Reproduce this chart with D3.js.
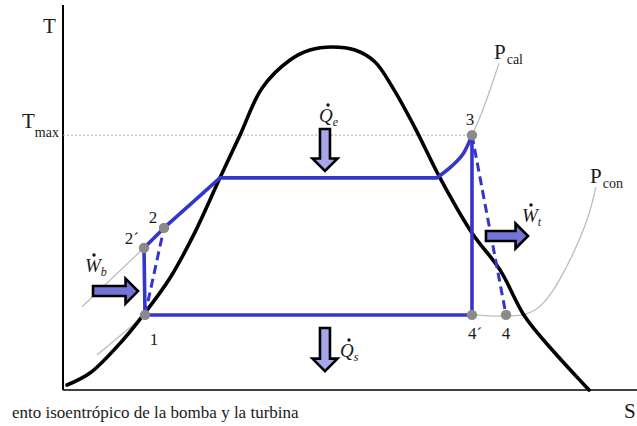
<!DOCTYPE html>
<html>
<head>
<meta charset="utf-8">
<script src="https://cdn.jsdelivr.net/npm/d3@7"></script>
<style>
  html, body { margin: 0; padding: 0; background: #fff; overflow: hidden; }
  svg { display: block; }
  text { font-family: "Liberation Serif", "DejaVu Serif", serif; fill: #1a1a1a; }
</style>
</head>
<body>
<svg id="chart" width="637" height="426"></svg>
<script>
// Saturation dome: entropy s and temperature T (arbitrary units)
const domeS = [0.07, 0.47, 1.045, 1.41, 1.864, 2.30, 2.735, 3.084, 3.467, 3.955, 4.303, 4.686,
               5.087, 5.436, 5.749, 6.132, 6.568, 7.125, 7.613, 8.049, 8.571, 8.920, 9.164];
const domeT = [1.3, 4.4, 13.0, 19.7, 29.1, 41.0, 55.1, 66.2, 78.4, 85.7, 88.3, 89.1,
               88.3, 85.2, 78.4, 68.1, 55.1, 40.8, 31.2, 19.0, 9.6, 3.9, 0];

// Rankine cycle states
const stateLabels = ["1", "2´", "2", "3", "4´", "4"];
const stateS = [1.429, 1.411, 1.760, 7.125, 7.125, 7.718];
const stateT = [19.5, 36.9, 42.1, 66.2, 19.5, 19.5];

// Boiler heating: saturated liquid, saturated vapour, then superheating up to state 3
const boilerS = [2.735, 6.516, 6.777, 6.969, 7.125];
const boilerT = [55.1, 55.1, 58.2, 61.3, 66.2];

// Isobars (thin grey)
const pcalS = [7.125, 7.265, 7.439, 7.596];
const pcalT = [66.2, 70.9, 77.9, 84.9];
const pcalLiqS = [0.331, 1.411];
const pcalLiqT = [21.6, 36.9];
const pconLiqS = [0.592, 1.429];
const pconLiqT = [9.1, 19.5];
const pconS = [7.125, 7.997, 8.275, 8.519, 8.833, 9.129, 9.286];
const pconT = [19.5, 19.5, 21.3, 25.5, 33.8, 44.2, 52.7];

const tMax = 66.2;

const svg = d3.select("#chart");
const x = d3.scaleLinear().domain([0, 10]).range([63, 637]);
const y = d3.scaleLinear().domain([0, 100]).range([390, 5]);

const zip = (a, b) => a.map((v, i) => [v, b[i]]);
const line = d3.line().x(d => x(d[0])).y(d => y(d[1]));
const smooth = d3.line().x(d => x(d[0])).y(d => y(d[1])).curve(d3.curveCatmullRom.alpha(0.5));

const blue = "#3535c8";
const grey = "#bdbdbd";

// Axes
svg.append("line").attr("x1", x(0)).attr("x2", x(0)).attr("y1", 5).attr("y2", y(0))
  .attr("stroke", "#000").attr("stroke-width", 2);
svg.append("line").attr("x1", x(0)).attr("x2", 637).attr("y1", y(0)).attr("y2", y(0))
  .attr("stroke", "#000").attr("stroke-width", 1.6);

// T_max reference
svg.append("line").attr("x1", x(0)).attr("x2", x(stateS[3])).attr("y1", y(tMax)).attr("y2", y(tMax))
  .attr("stroke", "#aaa").attr("stroke-width", 1).attr("stroke-dasharray", "2,2");

// Isobars
[[pcalS, pcalT], [pcalLiqS, pcalLiqT], [pconLiqS, pconLiqT], [pconS, pconT]].forEach(([s, t]) => {
  svg.append("path").attr("d", smooth(zip(s, t))).attr("fill", "none")
    .attr("stroke", grey).attr("stroke-width", 1.3);
});

// Dome
svg.append("path").attr("d", smooth(zip(domeS, domeT))).attr("fill", "none")
  .attr("stroke", "#000").attr("stroke-width", 3.6).attr("stroke-linecap", "round");

// Cycle: ideal path (solid)
const P = i => [stateS[i], stateT[i]];
svg.append("path")
  .attr("d", line([P(4), P(0), P(1), P(2), [boilerS[0], boilerT[0]], [boilerS[1], boilerT[1]]]))
  .attr("fill", "none").attr("stroke", blue).attr("stroke-width", 3.6).attr("stroke-linejoin", "round");
svg.append("path")
  .attr("d", smooth(zip(boilerS.slice(1), boilerT.slice(1))))
  .attr("fill", "none").attr("stroke", blue).attr("stroke-width", 3.6).attr("stroke-linecap", "round");
svg.append("path").attr("d", line([P(3), P(4)]))
  .attr("fill", "none").attr("stroke", blue).attr("stroke-width", 3.6);

// Real (non-isentropic) pump and turbine (dashed)
[[P(0), P(2)], [P(3), P(5)]].forEach(seg => {
  svg.append("path").attr("d", line(seg)).attr("fill", "none")
    .attr("stroke", blue).attr("stroke-width", 3).attr("stroke-dasharray", "9,5");
});

// State points
svg.selectAll("circle.state").data(stateS).join("circle").attr("class", "state")
  .attr("cx", (d) => x(d)).attr("cy", (d, i) => y(stateT[i])).attr("r", 5.2)
  .attr("fill", "#8a8a8a");

// State labels
const labelOffsets = [[9, 30, "middle"], [-5, -4, "end"], [-11, -5, "middle"],
                      [-2, -10, "middle"], [-4, 24, "start"], [0, 24, "middle"]];
svg.selectAll("text.state").data(stateLabels).join("text").attr("class", "state")
  .attr("x", (d, i) => x(stateS[i]) + labelOffsets[i][0])
  .attr("y", (d, i) => y(stateT[i]) + labelOffsets[i][1])
  .attr("text-anchor", (d, i) => labelOffsets[i][2])
  .attr("font-size", 17).text(d => d);

// Block arrows for heat and work
function blockArrow(x0, y0, x1, y1, fill) {
  const len = Math.hypot(x1 - x0, y1 - y0);
  const ang = Math.atan2(y1 - y0, x1 - x0) * 180 / Math.PI;
  const sw = 5, hw = 12.5, hl = 12.5;
  const pts = [[0, -sw], [len - hl, -sw], [len - hl, -hw], [len, 0], [len - hl, hw], [len - hl, sw], [0, sw]];
  svg.append("path").attr("d", "M" + pts.map(p => p.join(",")).join("L") + "Z")
    .attr("transform", `translate(${x0},${y0}) rotate(${ang})`)
    .attr("fill", fill).attr("stroke", "#000").attr("stroke-width", 2.6).attr("stroke-linejoin", "miter");
}
blockArrow(x(4.564), y(67.8), x(4.564), y(56.9), "#a6a6ea");
blockArrow(x(4.564), y(16.1), x(4.564), y(4.9), "#a6a6ea");
blockArrow(x(0.523), y(25.7), x(1.307), y(25.7), "#7474d8");
blockArrow(x(7.369), y(40.0), x(8.101), y(40.0), "#7474d8");

// Rate symbols with dot and subscript
function rateLabel(px, py, sym, sub) {
  const t = svg.append("text").attr("x", px).attr("y", py)
    .attr("font-style", "italic").attr("font-size", 19);
  t.append("tspan").text(sym);
  t.append("tspan").attr("font-size", 12).attr("dy", 4).text(sub);
  svg.append("circle").attr("cx", px + 9).attr("cy", py - 17).attr("r", 1.7).attr("fill", "#111");
}
rateLabel(319, 122, "Q", "e");
rateLabel(340, 357, "Q", "s");
rateLabel(85, 272, "W", "b");
rateLabel(522, 222, "W", "t");

// Axis and pressure labels
svg.append("text").attr("x", 43).attr("y", 33).attr("font-size", 21).text("T");
const tm = svg.append("text").attr("x", 22).attr("y", 128).attr("font-size", 21);
tm.append("tspan").text("T");
tm.append("tspan").attr("font-size", 14).attr("dy", 9).text("max");

const pc = svg.append("text").attr("x", 494).attr("y", 59).attr("font-size", 21);
pc.append("tspan").text("P");
pc.append("tspan").attr("font-size", 14).attr("dy", 5).attr("dx", 1).text("cal");

const pn = svg.append("text").attr("x", 590).attr("y", 183).attr("font-size", 21);
pn.append("tspan").text("P");
pn.append("tspan").attr("font-size", 14).attr("dy", 5).attr("dx", 1).text("con");

svg.append("text").attr("x", 624).attr("y", 418).attr("font-size", 21).text("S");

svg.append("text").attr("x", 12).attr("y", 418).attr("font-size", 17)
  .text("ento isoentrópico de la bomba y la turbina");
</script>
</body>
</html>
